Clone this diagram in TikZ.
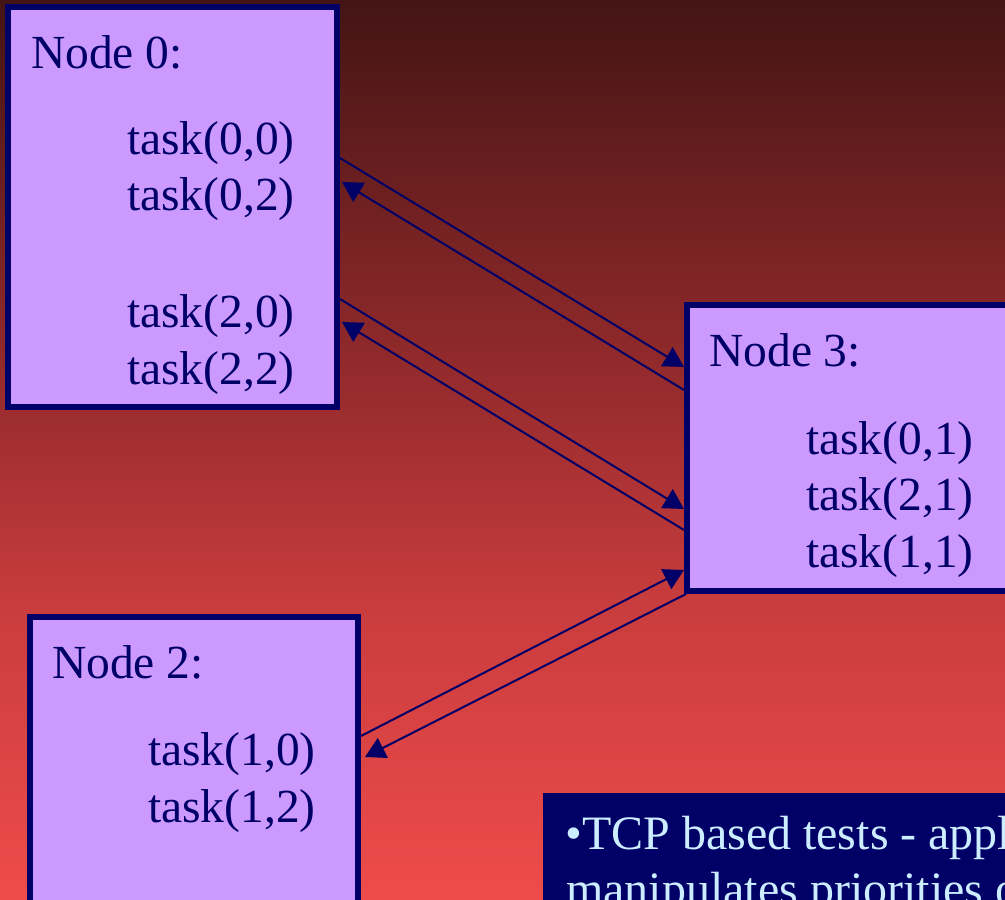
\documentclass[tikz,border=0pt]{standalone}
\usepackage{fontspec}
\setmainfont{Liberation Serif}
\usetikzlibrary{arrows.meta}

\definecolor{navy}{HTML}{000066}
\definecolor{lilac}{HTML}{CC99FF}
\definecolor{paleblue}{HTML}{CCECFF}
\definecolor{bgA}{HTML}{441414}
\definecolor{bgB}{HTML}{9A2C2E}
\definecolor{bgC}{HTML}{C83C3D}
\definecolor{bgD}{HTML}{EF4B4B}

\tikzset{
  hostbox/.style={draw=navy, fill=lilac, line width=6pt, rectangle, inner sep=0pt},
  notebox/.style={fill=navy, rectangle, inner sep=0pt},
  lbl/.style={anchor=base west, inner sep=0pt, text=navy, font=\fontsize{47.5}{57}\selectfont},
  notetext/.style={anchor=base west, inner sep=0pt, text=paleblue, font=\fontsize{48}{57}\selectfont},
  conn/.style={draw=navy, line width=2pt, -{Triangle[length=20pt,width=22pt]}}
}

\begin{document}
\begin{tikzpicture}[x=1pt,y=1pt]
  \useasboundingbox (0,0) rectangle (1005,900);
  \clip (0,0) rectangle (1005,900);

  % background gradient, dark at the top, bright red at the bottom
  \shade[top color=bgA, bottom color=bgB] (0,499) rectangle (1005,900);
  \shade[top color=bgB, bottom color=bgC] (0,299) rectangle (1005,500);
  \shade[top color=bgC, bottom color=bgD] (0,0) rectangle (1005,300);

  % processor boxes
  \node[hostbox, minimum width=329pt, minimum height=400pt] (n0) at (172.5,693) {};
  \node[hostbox, minimum width=333pt, minimum height=285.5pt] (n3) at (853.5,451.75) {};
  \node[hostbox, minimum width=328.5pt, minimum height=313pt] (n2) at (193.75,126.5) {};
  \node[notebox, minimum width=487pt, minimum height=137pt] (note) at (786.5,38.5) {};

  % Node 0 contents
  \node[lbl] (h0) at (31,831) {Node 0:};
  \node[lbl] (t00) at (127,745) {task(0,0)};
  \node[lbl] (t02) at (127,689) {task(0,2)};
  \node[lbl] (t20) at (127,572) {task(2,0)};
  \node[lbl] (t22) at (127,515) {task(2,2)};

  % Node 3 contents
  \node[lbl] (h3) at (709,533) {Node 3:};
  \node[lbl] (t01) at (806,445) {task(0,1)};
  \node[lbl] (t21) at (806,389) {task(2,1)};
  \node[lbl] (t11) at (806,332) {task(1,1)};

  % Node 2 contents
  \node[lbl] (h2) at (52,221) {Node 2:};
  \node[lbl] (t10) at (148,134) {task(1,0)};
  \node[lbl] (t12) at (148,77) {task(1,2)};

  % note text
  \node[notetext] (nl1) at (565,50) {•TCP based tests - application};
  \node[notetext] (nl2) at (566,-6) {manipulates priorities of};

  % message links between the boxes
  \draw[conn] ([yshift=-154pt]n0.north east) -- ([yshift=-64.5pt]n3.north west);
  \draw[conn] ([yshift=-87.5pt]n3.north west) -- ([xshift=2pt,yshift=-178pt]n0.north east);
  \draw[conn] ([yshift=-295pt]n0.north east) -- ([yshift=-206.5pt]n3.north west);
  \draw[conn] ([yshift=-227.5pt]n3.north west) -- ([xshift=2pt,yshift=-318pt]n0.north east);
  \draw[conn] ([yshift=-122pt]n2.north east) -- ([yshift=-267.5pt]n3.north west);
  \draw[conn] ([xshift=2pt]n3.south west) -- ([xshift=4pt,yshift=-143pt]n2.north east);
\end{tikzpicture}
\end{document}
